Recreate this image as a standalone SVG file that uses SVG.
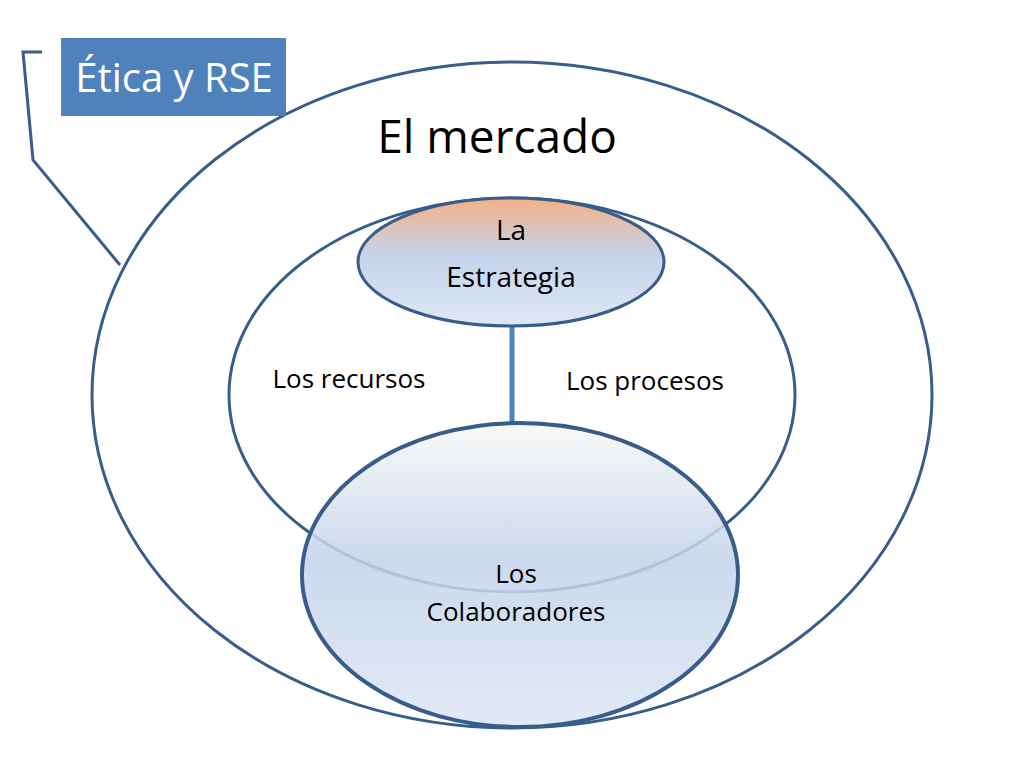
<svg xmlns="http://www.w3.org/2000/svg" width="1024" height="768" viewBox="0 0 1024 768">
<style>
text{font-family:"Open Sans","Noto Sans","Liberation Sans",sans-serif;fill:#000;text-anchor:middle}
.ln{fill:none;stroke:#385d8a;stroke-width:3}
</style>
<defs>
<linearGradient id="gs" x1="0" y1="0" x2="0" y2="1">
<stop offset="0" stop-color="#f4b183"/><stop offset="0.45" stop-color="#c5d4ec"/><stop offset="1" stop-color="#dfe7f5"/>
</linearGradient>
<linearGradient id="gc" x1="0" y1="0" x2="0" y2="1">
<stop offset="0" stop-color="#f8f8f6"/><stop offset="0.45" stop-color="#c3d2ea"/><stop offset="1" stop-color="#dde6f4"/>
</linearGradient>
</defs>
<rect width="1024" height="768" fill="#fff"/>
<g id="mercado">
<ellipse class="ln" cx="512" cy="395" rx="420" ry="333"/>
<text x="497" y="153" font-size="46">El mercado</text>
</g>
<g id="interno">
<ellipse class="ln" cx="512" cy="395" rx="283" ry="197"/>
<text x="349" y="388" font-size="26">Los recursos</text>
<text x="645" y="390" font-size="26">Los procesos</text>
</g>
<g id="connectors">
<line x1="512" y1="327" x2="512" y2="424" stroke="#4f81bd" stroke-width="5"/>
<polyline class="ln" points="42,52 23,52 33,160 120,265"/>
</g>
<g id="estrategia">
<ellipse cx="511" cy="262" rx="153" ry="64" fill="url(#gs)" stroke="#385d8a" stroke-width="3"/>
<text x="511" y="240" font-size="28">La</text>
<text x="511" y="287" font-size="28">Estrategia</text>
</g>
<g id="colaboradores">
<ellipse cx="520" cy="575" rx="218" ry="152" fill="url(#gc)" fill-opacity="0.85" stroke="#385d8a" stroke-width="4"/>
<text x="516" y="583" font-size="26">Los</text>
<text x="516" y="621" font-size="26">Colaboradores</text>
</g>
<g id="etica">
<rect x="61" y="38" width="225" height="78" fill="#4f81bd"/>
<text x="174" y="92" font-size="40" style="fill:#fff">Ética y RSE</text>
</g>
</svg>
